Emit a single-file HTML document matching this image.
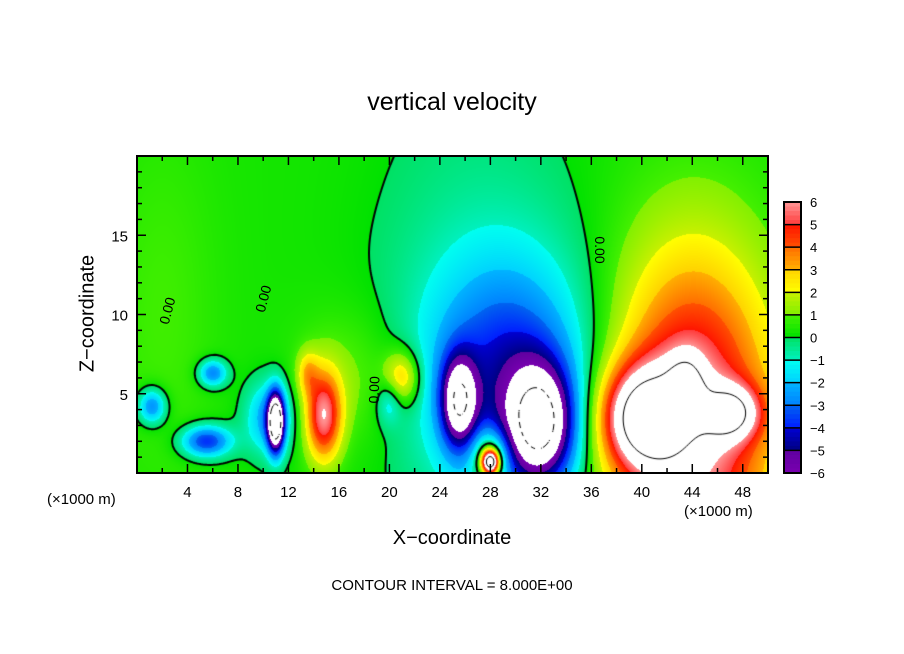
<!DOCTYPE html>
<html><head><meta charset="utf-8"><style>
body{margin:0;background:#fff;width:904px;height:654px;overflow:hidden;position:relative;font-family:"Liberation Sans",sans-serif;}
.t{position:absolute;color:#000;white-space:nowrap;}
</style></head><body>
<div class="t" style="left:0;width:904px;top:88px;text-align:center;font-size:25px;">vertical velocity</div>
<div class="t" style="left:-2px;top:302px;width:180px;text-align:center;font-size:20px;transform:rotate(-90deg);">Z−coordinate</div>
<div class="t" style="left:0;width:904px;top:527px;text-align:center;font-size:20px;">X−coordinate</div>
<div class="t" style="left:47px;top:491px;font-size:15px;">(×1000 m)</div>
<div class="t" style="left:684px;top:503px;font-size:15px;">(×1000 m)</div>
<div class="t" style="left:0;width:904px;top:577px;text-align:center;font-size:15px;">CONTOUR INTERVAL = 8.000E+00</div>
<canvas id="field" width="631" height="317" style="position:absolute;left:137px;top:156px;"></canvas>
<svg id="ax" width="904" height="654" style="position:absolute;left:0;top:0;"></svg>
<script>
// ---- data ----
const blobX  = [44, 40, 43.5, 47.2, 29.5, 32, 25.5, 28, 28, 14.8, 13.5, 17, 21, 11, 10.5, 5.5, 6, 1.2, 20, 2, 27];
const blobZ  = [3, 3.5, 5.5, 3.8, 6, 3, 4.5, 0.7, 1, 3.6, 6.3, 6, 6, 3.2, 3.5, 2, 6.3, 4.2, 4.5, 10, 11];
const blobSX = [4.5, 2.3, 1.0, 1.6, 4.5, 1.9, 1.0, 0.45, 1.0, 1.0, 0.6, 3, 1.0, 0.45, 1.3, 1.4, 0.8, 0.8, 0.7, 3, 6];
const blobSZ = [7.5, 2.2, 1.4, 1.2, 5, 2.6, 2.0, 0.5, 1.2, 2.0, 1.0, 3, 1.2, 1.3, 1.6, 0.7, 0.6, 0.8, 1.0, 8, 10];
const blobAmp= [6.3, 6.5, 3, 4.5, -4.0, -6.8, -5.8, 9, 4, 5.3, 2, 1, 3, -9, -3, -4.2, -3.3, -3.3, -1.8, 0.6, -0.8];
const baseValue = 0.3;
const xTicks = [4,8,12,16,20,24,28,32,36,40,44,48];
const zTicks = [5,10,15];
const cbLevels = [6,5,4,3,2,1,0,-1,-2,-3,-4,-5,-6];
const contourLevels = [0, 8, -8];
// ---- scales ----
const PL=137,PT=156,PW=631,PH=317,XMAX=50,ZMAX=20;
const xS=x=>PL+x/XMAX*PW, zS=z=>PT+PH-z/ZMAX*PH;
function field(x,z){let v=baseValue;for(let i=0;i<blobX.length;i++){const dx=(x-blobX[i])/blobSX[i],dz=(z-blobZ[i])/blobSZ[i];v+=blobAmp[i]*Math.exp(-0.5*(dx*dx+dz*dz));}return v;}
const bands=[[[120,0,176],[96,0,160]],[[0,0,130],[0,0,210]],[[0,30,255],[0,100,240]],[[0,130,255],[0,180,255]],[[0,210,255],[0,255,240]],[[0,240,190],[0,225,100]],[[0,225,0],[70,240,0]],[[130,240,0],[200,240,0]],[[255,255,0],[255,210,0]],[[255,175,0],[255,110,0]],[[255,80,0],[255,20,0]],[[255,60,60],[255,150,150]]];
function col(v){if(v<-6||v>6)return[255,255,255];let b=Math.min(11,Math.floor(v+6));const f=v+6-b;const a=bands[b][0],c=bands[b][1];return[a[0]+(c[0]-a[0])*f,a[1]+(c[1]-a[1])*f,a[2]+(c[2]-a[2])*f];}
const cv=document.getElementById('field'),ctx=cv.getContext('2d');const img=ctx.createImageData(PW,PH);
for(let j=0;j<PH;j++)for(let i=0;i<PW;i++){const x=(i+0.5)/PW*XMAX,z=(PH-j-0.5)/PH*ZMAX;const c=col(field(x,z));const k=(j*PW+i)*4;img.data[k]=c[0];img.data[k+1]=c[1];img.data[k+2]=c[2];img.data[k+3]=255;}
ctx.putImageData(img,0,0);
// contours (marching squares)
const G=2,nx=Math.ceil(PW/G),nz=Math.ceil(PH/G);const grid=[];
for(let j=0;j<=nz;j++){grid[j]=[];for(let i=0;i<=nx;i++)grid[j][i]=field(i*G/PW*XMAX,(PH-j*G)/PH*ZMAX);}
contourLevels.forEach(L=>{ctx.beginPath();ctx.strokeStyle='#000';ctx.lineWidth=L===0?2:1;
for(let j=0;j<nz;j++)for(let i=0;i<nx;i++){if(L<0&&((i+j)%6)>=3)continue;const p=[[i,j,grid[j][i]],[i+1,j,grid[j][i+1]],[i+1,j+1,grid[j+1][i+1]],[i,j+1,grid[j+1][i]]];const pts=[];
for(let e=0;e<4;e++){const a=p[e],b=p[(e+1)%4];if((a[2]-L)*(b[2]-L)<0){const t=(L-a[2])/(b[2]-a[2]);pts.push([(a[0]+(b[0]-a[0])*t)*G,(a[1]+(b[1]-a[1])*t)*G]);}}
if(pts.length>=2){ctx.moveTo(pts[0][0],pts[0][1]);ctx.lineTo(pts[1][0],pts[1][1]);}if(pts.length===4){ctx.moveTo(pts[2][0],pts[2][1]);ctx.lineTo(pts[3][0],pts[3][1]);}}
ctx.stroke();});
// axes
const svg=document.getElementById('ax');const NS='http://www.w3.org/2000/svg';
function mk(t,a,p){const e=document.createElementNS(NS,t);for(const k in a)e.setAttribute(k,a[k]);(p||svg).appendChild(e);return e;}
const fr=mk('rect',{x:PL,y:PT,width:PW,height:PH,fill:'none',stroke:'#000','stroke-width':2});


for(let x=2;x<XMAX;x+=2){const len=x%4===0?9:5;mk('line',{x1:xS(x),x2:xS(x),y1:PT+PH,y2:PT+PH-len,stroke:'#000','stroke-width':1.5});mk('line',{x1:xS(x),x2:xS(x),y1:PT,y2:PT+len,stroke:'#000','stroke-width':1.5});}
for(let z=1;z<ZMAX;z++){const len=z%5===0?9:5;mk('line',{x1:PL,x2:PL+len,y1:zS(z),y2:zS(z),stroke:'#000','stroke-width':1.5});mk('line',{x1:PL+PW,x2:PL+PW-len,y1:zS(z),y2:zS(z),stroke:'#000','stroke-width':1.5});}
xTicks.forEach(v=>{const t=mk('text',{x:xS(v),y:497,'text-anchor':'middle','font-size':15,'font-family':'Liberation Sans'});t.textContent=v;

});
zTicks.forEach(v=>{const t=mk('text',{x:128,y:zS(v)+6,'text-anchor':'end','font-size':15,'font-family':'Liberation Sans'});t.textContent=v;

});
// zero contour labels
[[172,312,-75],[268,300,-75],[379,390,-88],[595,250,90]].forEach(a=>{const t=mk('text',{x:a[0],y:a[1],'font-size':14,'font-family':'Liberation Sans','text-anchor':'middle',transform:`rotate(${a[2]} ${a[0]} ${a[1]})`});t.textContent='0.00';

});
// colorbar
const CX=784,CW=17,CT=202,CB=473;const cs=v=>CT+(6-v)/12*(CB-CT);
const cbG=mk('g',{});

for(let k=0;k<60;k++){const v1=6-k*0.2,v0=v1-0.2;const c=col((v0+v1)/2);mk('rect',{x:CX,y:cs(v1),width:CW,height:cs(v0)-cs(v1)+0.5,fill:`rgb(${c.map(Math.round)})`},cbG);}
cbLevels.forEach(v=>{mk('line',{x1:CX,x2:CX+CW,y1:cs(v),y2:cs(v),stroke:'#000','stroke-width':1.5},cbG);const t=mk('text',{x:CX+CW+9,y:cs(v)+5,'font-size':13,'font-family':'Liberation Sans'},cbG);t.textContent=v<0?'−'+(-v):v;});
mk('rect',{x:CX,y:CT,width:CW,height:CB-CT,fill:'none',stroke:'#000','stroke-width':2},cbG);
</script>
</body></html>
